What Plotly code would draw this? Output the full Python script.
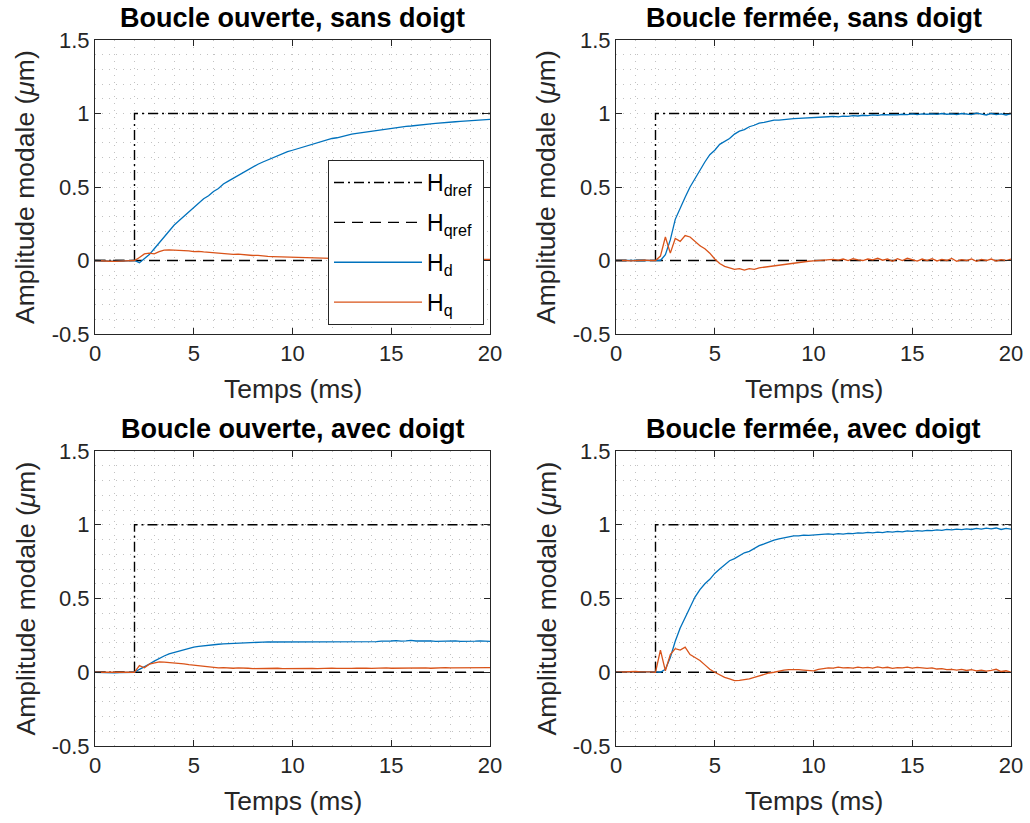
import plotly.graph_objects as go

# ---------------- data ----------------
T = [i * 0.25 for i in range(81)]  # time (ms)

REF_T = [0, 2, 2, 20]
HDREF = [0, 0, 1, 1]
HQREF_T = [0, 20]
HQREF = [0, 0]

TITLES = ["Boucle ouverte, sans doigt", "Boucle fermée, sans doigt",
          "Boucle ouverte, avec doigt", "Boucle fermée, avec doigt"]

# Boucle ouverte, sans doigt
OL_SD_HD = [0.0, -0.003, -0.005, -0.004, -0.006, -0.004, -0.003, -0.002, 0.0,
            -0.015, 0.01, 0.04, 0.08, 0.12, 0.16, 0.20, 0.24, 0.27, 0.30, 0.33,
            0.36, 0.39, 0.42, 0.44, 0.47, 0.49, 0.52, 0.54, 0.56, 0.58,
            0.60, 0.62, 0.64, 0.655, 0.67, 0.685, 0.70, 0.715, 0.73, 0.74,
            0.75, 0.76, 0.775, 0.785, 0.795, 0.80, 0.81, 0.82, 0.83, 0.835,
            0.845, 0.85, 0.86, 0.865, 0.87, 0.875, 0.88, 0.885, 0.89, 0.895,
            0.90, 0.905, 0.91, 0.912, 0.915, 0.92, 0.925, 0.928, 0.93, 0.933,
            0.937, 0.94, 0.942, 0.944, 0.947, 0.95, 0.952, 0.954, 0.956, 0.958, 0.96]
OL_SD_HQ = [0.0, 0.0, -0.003, -0.005, -0.006, -0.004, -0.002, -0.001, 0.0,
            0.02, 0.045, 0.05, 0.045, 0.06, 0.07, 0.072, 0.07, 0.072, 0.068, 0.066,
            0.06, 0.062, 0.058, 0.055, 0.05, 0.052, 0.046, 0.045, 0.042, 0.044,
            0.04, 0.036, 0.034, 0.035, 0.03, 0.028, 0.027, 0.026, 0.022, 0.024,
            0.02, 0.02, 0.018, 0.016, 0.017, 0.014, 0.015, 0.012, 0.013, 0.011,
            0.012, 0.01, 0.011, 0.009, 0.01, 0.008, 0.01, 0.009, 0.007, 0.009,
            0.008, 0.01, 0.007, 0.008, 0.006, 0.009, 0.007, 0.008, 0.006, 0.007,
            0.009, 0.006, 0.008, 0.007, 0.005, 0.008, 0.006, 0.007, 0.008, 0.006, 0.007]

# Boucle fermée, sans doigt
CL_SD_HD = [0.0, 0.0, 0.0, -0.002, 0.0, 0.002, 0.0, 0.0, 0.0,
            0.0, 0.04, 0.14, 0.28, 0.36, 0.43, 0.50, 0.56, 0.62, 0.67, 0.72,
            0.75, 0.79, 0.81, 0.83, 0.86, 0.88, 0.89, 0.91, 0.92, 0.935,
            0.94, 0.95, 0.955, 0.955, 0.96, 0.962, 0.965, 0.967, 0.968, 0.97,
            0.97, 0.975, 0.972, 0.978, 0.98, 0.977, 0.982, 0.98, 0.985, 0.983,
            0.988, 0.985, 0.99, 0.987, 0.992, 0.99, 0.993, 0.99, 0.995, 0.992,
            0.997, 0.993, 0.998, 0.995, 0.998, 0.994, 1.0, 0.995, 0.998, 0.993,
            1.0, 0.996, 0.992, 1.002, 0.995, 0.99, 1.0, 0.993, 0.998, 0.99, 1.0]
CL_SD_HQ = [0.0, 0.002, 0.0, -0.002, 0.001, 0.0, 0.002, 0.0, 0.0,
            0.03, 0.16, 0.05, 0.15, 0.13, 0.17, 0.16, 0.13, 0.10, 0.08, 0.05,
            0.01, -0.02, -0.04, -0.05, -0.06, -0.055, -0.065, -0.055, -0.06, -0.05,
            -0.045, -0.04, -0.035, -0.03, -0.028, -0.022, -0.018, -0.012, -0.008, -0.005,
            -0.002, 0.0, 0.005, 0.002, 0.008, 0.003, 0.01, 0.0, 0.012, 0.005,
            0.0, 0.01, 0.004, 0.015, 0.002, 0.01, -0.005, 0.012, 0.0, 0.015,
            0.003, -0.004, 0.01, 0.0, 0.012, -0.003, 0.008, 0.0, 0.014, -0.005,
            0.006, 0.0, 0.01, -0.006, 0.008, 0.0, 0.01, -0.004, 0.006, 0.0, 0.01]

# Boucle ouverte, avec doigt
OL_AD_HD = [0.0, -0.002, -0.003, -0.002, -0.004, -0.003, -0.002, -0.001, 0.0,
            0.02, 0.035, 0.055, 0.075, 0.095, 0.11, 0.125, 0.135, 0.145, 0.155, 0.163,
            0.17, 0.175, 0.18, 0.185, 0.188, 0.19, 0.193, 0.195, 0.197, 0.198,
            0.20, 0.201, 0.202, 0.203, 0.204, 0.205, 0.205, 0.206, 0.206, 0.207,
            0.207, 0.206, 0.208, 0.207, 0.209, 0.207, 0.206, 0.208, 0.207, 0.209,
            0.208, 0.206, 0.209, 0.208, 0.21, 0.207, 0.209, 0.208, 0.211, 0.209,
            0.212, 0.215, 0.211, 0.213, 0.216, 0.212, 0.214, 0.211, 0.213, 0.21,
            0.212, 0.214, 0.211, 0.213, 0.21, 0.212, 0.214, 0.211, 0.213, 0.212, 0.21]
OL_AD_HQ = [0.0, 0.0, -0.002, -0.003, -0.004, -0.003, -0.002, -0.001, 0.0,
            0.045, 0.03, 0.055, 0.065, 0.07, 0.068, 0.066, 0.063, 0.06, 0.057, 0.052,
            0.048, 0.045, 0.04, 0.036, 0.032, 0.03, 0.031, 0.028, 0.027, 0.029,
            0.026, 0.027, 0.025, 0.026, 0.024, 0.026, 0.025, 0.027, 0.024, 0.025,
            0.026, 0.024, 0.027, 0.025, 0.026, 0.024, 0.027, 0.025, 0.028, 0.026,
            0.025, 0.027, 0.026, 0.028, 0.025, 0.027, 0.026, 0.028, 0.027, 0.029,
            0.027, 0.028, 0.026, 0.029, 0.027, 0.03, 0.028, 0.029, 0.027, 0.03,
            0.028, 0.031, 0.029, 0.03, 0.028, 0.031, 0.03, 0.032, 0.03, 0.033, 0.032]

# Boucle fermée, avec doigt
CL_AD_HD = [0.0, 0.002, 0.0, 0.003, 0.004, 0.002, 0.004, 0.003, 0.003,
            0.0, 0.02, 0.10, 0.21, 0.30, 0.37, 0.43, 0.51, 0.56, 0.60, 0.63,
            0.67, 0.70, 0.73, 0.756, 0.77, 0.79, 0.81, 0.82, 0.84, 0.858,
            0.87, 0.885, 0.896, 0.905, 0.912, 0.918, 0.925, 0.925, 0.93, 0.928,
            0.93, 0.935, 0.932, 0.938, 0.935, 0.94, 0.937, 0.942, 0.94, 0.945,
            0.943, 0.948, 0.945, 0.95, 0.947, 0.953, 0.95, 0.955, 0.952, 0.958,
            0.955, 0.96, 0.957, 0.962, 0.96, 0.965, 0.962, 0.968, 0.965, 0.97,
            0.967, 0.972, 0.968, 0.975, 0.97, 0.977, 0.972, 0.978, 0.968, 0.975, 0.97]
CL_AD_HQ = [0.0, 0.002, 0.004, 0.003, 0.005, 0.003, 0.004, 0.002, 0.0,
            0.15, 0.01, 0.12, 0.16, 0.15, 0.17, 0.12, 0.10, 0.08, 0.05, 0.02,
            0.0, -0.02, -0.035, -0.045, -0.057, -0.055, -0.05, -0.045, -0.035, -0.025,
            -0.012, -0.005, 0.0, 0.008, 0.015, 0.018, 0.02, 0.018, 0.015, 0.012,
            0.01, 0.02, 0.025, 0.03, 0.028, 0.035, 0.03, 0.032, 0.028, 0.035,
            0.03, 0.033, 0.028, 0.036, 0.03, 0.034, 0.027, 0.032, 0.03, 0.035,
            0.028, 0.033, 0.03, 0.026, 0.03, 0.022, 0.025, 0.018, 0.02, 0.015,
            0.02, 0.012, 0.018, 0.01, 0.015, 0.008, 0.012, 0.02, 0.005, 0.01, 0.0]

HD_DATA = [OL_SD_HD, CL_SD_HD, OL_AD_HD, CL_AD_HD]
HQ_DATA = [OL_SD_HQ, CL_SD_HQ, OL_AD_HQ, CL_AD_HQ]

# ---------------- style ----------------
W, H = 1030, 823
FONT = "Liberation Sans, Arial, Helvetica, sans-serif"
TXT = "#262626"
BLUE = "#0072BD"
ORANGE = "#D95319"
GRID = "#c2c2c2"
GDASH = "1px,6px"

# axes boxes in pixels: (left, right, top, bottom)
BOXES = [(95, 490, 40, 334), (616, 1011, 40, 334),
         (95, 490, 451, 746), (616, 1011, 451, 746)]

fig = go.Figure()
for k in range(4):
    xa = "x" if k == 0 else f"x{k+1}"
    ya = "y" if k == 0 else f"y{k+1}"
    show = (k == 0)
    fig.add_trace(go.Scatter(x=REF_T, y=HDREF, mode="lines", xaxis=xa, yaxis=ya,
                             name="H<sub>dref</sub>&nbsp;", showlegend=show, legendgroup="a",
                             line=dict(color="black", width=1.4, dash="10px,4px,2px,4px")))
    fig.add_trace(go.Scatter(x=HQREF_T, y=HQREF, mode="lines", xaxis=xa, yaxis=ya,
                             name="H<sub>qref</sub>&nbsp;", showlegend=show, legendgroup="b",
                             line=dict(color="black", width=1.4, dash="11px,7px")))
    fig.add_trace(go.Scatter(x=T, y=HD_DATA[k], mode="lines", xaxis=xa, yaxis=ya,
                             name="H<sub>d</sub>", showlegend=show, legendgroup="c",
                             line=dict(color=BLUE, width=1.3)))
    fig.add_trace(go.Scatter(x=T, y=HQ_DATA[k], mode="lines", xaxis=xa, yaxis=ya,
                             name="H<sub>q</sub>", showlegend=show, legendgroup="d",
                             line=dict(color=ORANGE, width=1.3)))

layout = dict(width=W, height=H, margin=dict(l=0, r=0, t=0, b=0, autoexpand=False),
              paper_bgcolor="white", plot_bgcolor="white",
              font=dict(family=FONT, color=TXT, size=22),
              legend=dict(x=328 / W, y=1 - 160 / H, xanchor="left", yanchor="top",
                          bgcolor="white", bordercolor=TXT, borderwidth=1,
                          font=dict(size=23, color="black"), itemwidth=88,
                          tracegroupgap=7),
              annotations=[])

grid_kw = dict(showgrid=True, gridcolor=GRID, griddash=GDASH, gridwidth=1,
               showline=True, linecolor=TXT, linewidth=1, mirror="ticks",
               ticks="inside", ticklen=6, tickcolor=TXT, zeroline=False,
               automargin=False,
               tickfont=dict(size=22, color=TXT, family=FONT))

for k, (l, r, t, b) in enumerate(BOXES):
    xn = "xaxis" if k == 0 else f"xaxis{k+1}"
    yn = "yaxis" if k == 0 else f"yaxis{k+1}"
    ya = "y" if k == 0 else f"y{k+1}"
    xa = "x" if k == 0 else f"x{k+1}"
    layout[xn] = dict(domain=[l / W, r / W], anchor=ya, range=[0, 20],
                      tickvals=[0, 5, 10, 15, 20],
                      minor=dict(dtick=1, tick0=0, showgrid=True, gridcolor=GRID,
                                 griddash=GDASH, gridwidth=1),
                      **grid_kw)
    layout[yn] = dict(domain=[1 - b / H, 1 - t / H], anchor=xa, range=[-0.5, 1.5],
                      tickvals=[-0.5, 0, 0.5, 1, 1.5],
                      ticktext=["-0.5", "0", "0.5", "1", "1.5"],
                      minor=dict(dtick=0.1, tick0=0, showgrid=True, gridcolor=GRID,
                                 griddash=GDASH, gridwidth=1),
                      **grid_kw)
    cx = (l + r) / 2
    layout["annotations"] += [
        dict(text="<b>" + TITLES[k] + "</b>", x=cx / W, y=1 - (t - 22) / H,
             xref="paper", yref="paper", showarrow=False, xanchor="center", yanchor="middle",
             font=dict(size=27, color="black", family=FONT)),
        dict(text="Temps (ms)", x=cx / W, y=1 - (b + 55) / H,
             xref="paper", yref="paper", showarrow=False, xanchor="center", yanchor="middle",
             font=dict(size=26.5, color=TXT, family=FONT)),
        dict(text="Amplitude modale (<i>μ</i>m)", x=(l - 70) / W, y=1 - (t + b) / 2 / H,
             xref="paper", yref="paper", showarrow=False, xanchor="center", yanchor="middle",
             textangle=-90, font=dict(size=26.5, color=TXT, family=FONT)),
    ]

fig.update_layout(**layout)
fig.write_html("out.html", config={"displayModeBar": False},
               post_script="document.body.style.margin='0';document.body.style.overflow='hidden';")
